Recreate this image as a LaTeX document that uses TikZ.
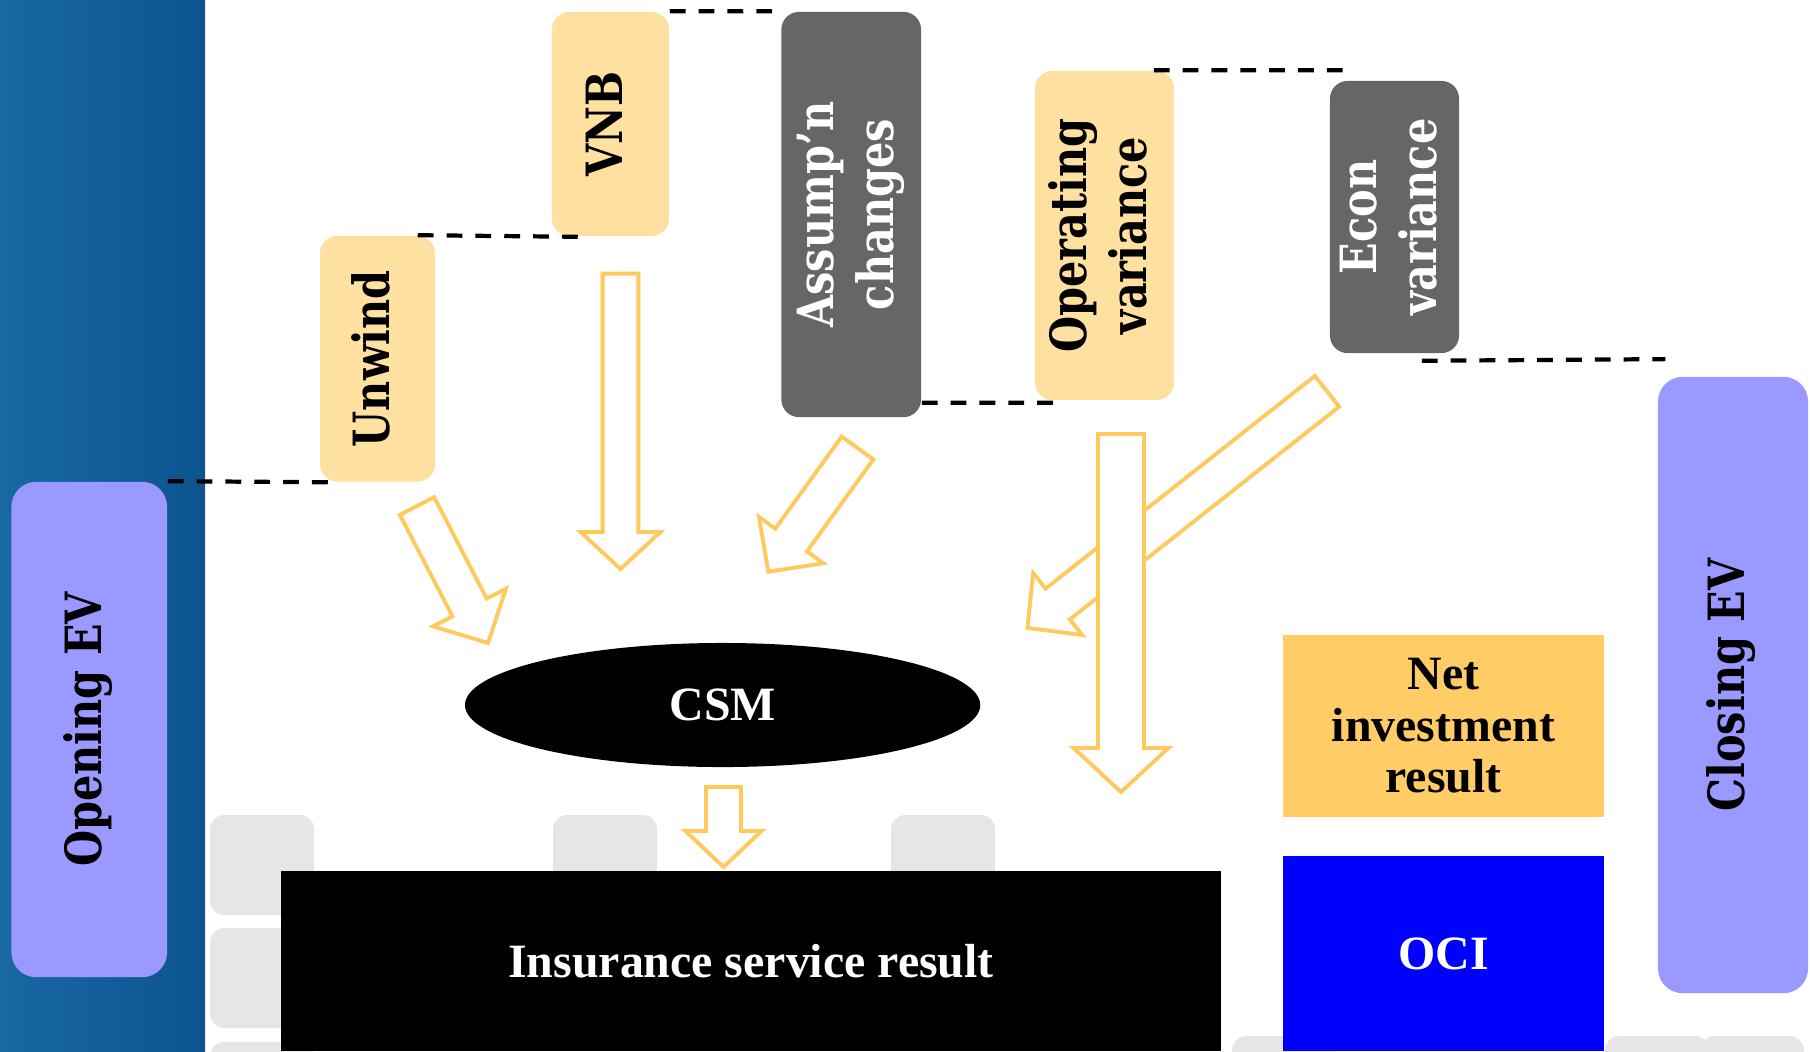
\documentclass[tikz,border=0pt]{standalone}
\usepackage{fontspec}
\usetikzlibrary{shapes.geometric,calc}

\newfontfamily\labelfont[FakeStretch=0.83]{DejaVu Serif}
\newfontfamily\boxfont{Liberation Serif}

\definecolor{bandlight}{RGB}{24,104,162}
\definecolor{banddark}{RGB}{13,84,143}
\definecolor{evlilac}{RGB}{153,153,255}
\definecolor{barpeach}{RGB}{254,224,160}
\definecolor{bargray}{RGB}{102,102,102}
\definecolor{netgold}{RGB}{255,204,102}
\definecolor{ociblue}{RGB}{0,0,255}
\definecolor{arrowgold}{RGB}{255,201,94}
\definecolor{tilegray}{RGB}{230,230,230}

% rotated (bottom to top) label, lines split by \\
\newcommand{\vtext}[1]{\rotatebox{90}{\begin{tabular}{@{}c@{}}#1\end{tabular}}}
% hollow block arrow: tail, angle, length, half shaft, half head, head length
\newcommand{\fatarrow}[6]{%
  \draw[hollow, shift={#1}, rotate=#2] (0,-#4) -- (#3-#6,-#4) -- (#3-#6,-#5)
    -- (#3,0) -- (#3-#6,#5) -- (#3-#6,#4) -- (0,#4) -- cycle;}

\tikzset{
  widelabel/.style={font=\labelfont\bfseries\fontsize{14.2}{17}\selectfont},
  evbox/.style={widelabel, fill=evlilac, rounded corners=7pt, inner sep=0pt},
  upbar/.style={widelabel, fill=barpeach, rounded corners=5pt, inner sep=0pt},
  downbar/.style={widelabel, fill=bargray, text=white, rounded corners=5pt, inner sep=0pt},
  resultbox/.style={font=\boxfont\bfseries\fontsize{13.6}{14.7}\selectfont, inner sep=0pt},
  levelline/.style={line width=1.2pt, dash pattern=on 4.5pt off 3.7pt},
  hollow/.style={draw=arrowgold, fill=white, line width=1.1pt},
}

\begin{document}
\begin{tikzpicture}[x=0.01cm, y=-0.01cm]
\useasboundingbox (0,0) rectangle (1810,1051);

% backdrop
\shade[left color=bandlight, right color=banddark] (0,0) rectangle (205,1051);
\begin{scope}
  \clip (0,0) rectangle (1810,1051);
  \foreach \x/\y in {210/815, 210/928, 210/1042, 553/815, 891/815, 1232/1036, 1605/1036, 1700/1036}
    \fill[tilegray, rounded corners=4pt] (\x,\y) rectangle ++(104,100);
\end{scope}

% waterfall bars
\node[evbox, minimum width=1.555cm, minimum height=4.95cm] (opening) at (89.25,729.5) {\vtext{Opening EV}};
\node[upbar, minimum width=1.15cm, minimum height=2.455cm] (unwind) at (377.5,358.75) {\vtext{Unwind}};
\node[upbar, minimum width=1.17cm, minimum height=2.24cm] (vnb) at (610.5,124) {\vtext{VNB}};
\node[downbar, minimum width=1.396cm, minimum height=4.05cm] (assump) at (851.2,214.5) {\vtext{Assump’n\\changes}};
\node[upbar, minimum width=1.39cm, minimum height=3.29cm] (opvar) at (1104.5,235.5) {\vtext{Operating\\variance}};
\node[downbar, minimum width=1.29cm, minimum height=2.72cm] (econ) at (1394.5,217) {\vtext{Econ\\variance}};
\node[evbox, minimum width=1.5cm, minimum height=6.16cm] (closing) at (1733,685) {\vtext{Closing EV}};

% levels between bars
\draw[levelline] (opening.north east) -- ($(unwind.south west)+(10,0)$);
\draw[levelline] ($(unwind.north east)+(-18,0)$) -- ($(vnb.south west)+(27,0)$);
\draw[levelline] (vnb.north east) -- ($(assump.north west)+(-7,0)$);
\draw[levelline] ($(assump.south east)+(0,-15)$) -- ($(opvar.south west)+(19,2)$);
\draw[levelline] ($(opvar.north east)+(-21,0)$) -- ($(econ.north west)+(16,-10)$);
\draw[levelline] ($(econ.south east)+(-38,7)$) -- ($(closing.north west)+(8,-17)$);

% results
\node[ellipse, fill=black, text=white, inner sep=0pt, minimum width=5.15cm, minimum height=1.24cm,
  font=\boxfont\bfseries\fontsize{13.6}{14.7}\selectfont] (csm) at (722.6,705) {CSM};
\node[resultbox, fill=black, text=white, minimum width=9.39cm, minimum height=1.795cm] (isr) at (751,961.25) {Insurance service result};
\node[resultbox, fill=netgold, minimum width=3.21cm, minimum height=1.815cm, align=center] (netinv) at (1443.5,725.75) {Net\\investment\\result};
\node[resultbox, fill=ociblue, text=white, minimum width=3.21cm, minimum height=1.95cm] (oci) at (1443.5,953.5) {OCI};

% flows
\fatarrow{(417,506)}{-62.6}{154.3}{19.3}{41}{40}
\fatarrow{(620.5,273.6)}{-90}{295.4}{17.9}{39.9}{37}
\fatarrow{(857.5,448)}{-125.8}{152.5}{19.5}{39.7}{39}
\fatarrow{(1327,391.3)}{-141.7}{381.7}{19.6}{39.5}{38.5}
\fatarrow{(1121,434)}{-90}{358}{23}{47.4}{44}
\fatarrow{(723.5,787)}{-90}{80}{17.5}{38}{36}
\end{tikzpicture}
\end{document}
